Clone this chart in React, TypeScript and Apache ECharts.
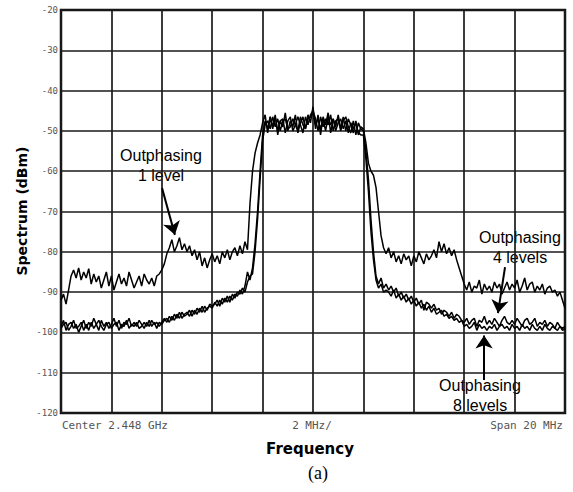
import React, { useEffect, useRef } from "react";
import * as echarts from "echarts";

// Spectrum analyser sweep: Center 2.448 GHz, Span 20 MHz, 0.1 MHz per sample (201 samples)
const spanStartMHz = -10;
const stepMHz = 0.1;

const yTicks = [-120, -110, -100, -90, -80, -70, -60, -50, -40, -30, -20];

// Outphasing, 1 level (dBm)
const level1 = [
  -92.0, -90.5, -93.0, -89.5, -86.0, -84.5, -86.5, -84.0, -87.0, -85.0,
  -86.5, -84.2, -88.0, -85.5, -87.5, -86.0, -89.0, -87.0, -85.0, -88.5,
  -86.0, -89.5, -87.5, -85.5, -88.0, -86.5, -88.5, -85.0, -87.0, -89.0,
  -87.5, -86.0, -88.5, -85.5, -87.0, -88.0, -86.5, -88.5, -86.0, -85.5,
  -84.5, -83.0, -80.5, -79.0, -77.0, -80.0, -78.5, -76.5, -79.5, -78.0,
  -80.0, -78.5, -81.0, -79.5, -82.0, -80.0, -83.5, -81.5, -84.0, -82.0,
  -80.5, -82.5, -81.0, -83.0, -80.0, -81.5, -79.5, -82.0, -80.0, -79.0,
  -81.0, -78.5, -80.5, -77.5, -79.5, -68.0, -60.0, -55.5, -53.0, -51.0,
  -48.0, -46.0, -50.5, -46.5, -49.5, -46.0, -51.0, -47.5, -49.0, -45.5,
  -50.0, -47.5, -49.0, -46.0, -50.5, -48.0, -46.5, -49.5, -46.0, -48.0,
  -44.0, -49.5, -46.0, -51.0, -46.5, -48.5, -45.5, -50.5, -47.0, -49.0,
  -46.0, -49.5, -46.5, -50.0, -47.0, -48.5, -50.5, -47.5, -51.0, -49.0,
  -49.5, -53.0, -58.0, -60.0, -61.0, -64.0, -70.0, -76.0, -79.0, -80.5,
  -79.0, -81.5, -80.0, -82.5, -81.0, -83.0, -80.5, -82.0, -81.0, -83.5,
  -81.0, -82.5, -80.0, -81.5, -83.0, -80.5, -82.0, -81.0, -79.5, -81.5,
  -77.5, -80.0, -78.0, -80.5, -79.0, -81.0, -79.5, -82.0, -84.0, -86.0,
  -88.0, -89.5, -87.5, -90.0, -88.5, -89.0, -87.0, -90.5, -88.0, -89.5,
  -88.5, -90.0, -87.5, -89.0, -88.0, -90.5, -89.0, -87.5, -89.5, -88.0,
  -89.0, -87.0, -90.0, -88.5, -86.5, -89.5, -88.0, -87.5, -90.0, -88.5,
  -89.5, -88.0, -90.5, -89.0, -88.5, -90.0, -89.5, -91.0, -90.0, -92.0,
  -94.0,
];

// Outphasing, 4 levels (dBm)
const level4 = [
  -98.5, -97.0, -99.5, -98.0, -97.5, -99.0, -98.0, -100.0, -98.5, -97.0,
  -99.0, -97.5, -98.5, -96.5, -98.0, -99.5, -97.0, -98.5, -97.5, -99.0,
  -98.0, -96.5, -98.5, -97.0, -99.0, -97.5, -98.0, -96.5, -98.5, -97.5,
  -98.5, -97.0, -98.0, -99.0, -97.5, -98.5, -97.0, -98.0, -97.5, -98.5,
  -97.5, -96.5, -97.5, -96.0, -97.0, -95.5, -96.5, -95.0, -96.5, -95.5,
  -95.0, -96.0, -94.5, -95.5, -94.0, -95.0, -93.5, -95.0, -94.0, -93.5,
  -94.0, -92.5, -93.5, -92.0, -93.0, -91.5, -92.5, -91.0, -92.0, -90.5,
  -91.0, -89.5, -90.5, -88.5, -85.0, -87.0, -84.0, -78.0, -70.0, -60.0,
  -51.0, -47.5, -49.5, -46.5, -49.0, -46.5, -50.0, -47.5, -47.0, -50.5,
  -47.5, -46.5, -50.0, -48.5, -46.5, -48.5, -50.5, -46.5, -48.5, -46.0,
  -45.0, -47.0, -50.0, -46.5, -49.0, -47.0, -48.5, -46.0, -50.0, -47.5,
  -47.0, -50.0, -47.5, -46.5, -49.0, -50.5, -47.5, -51.0, -48.0, -49.5,
  -50.0, -55.0, -62.0, -72.0, -80.0, -86.0, -88.0, -86.5, -89.0, -88.0,
  -89.5, -88.5, -90.0, -89.0, -91.0, -90.0, -91.5, -90.5, -92.0, -91.0,
  -92.5, -91.5, -93.0, -92.0, -94.5, -92.5, -93.0, -94.0, -93.0, -94.5,
  -94.0, -95.5, -94.5, -95.0, -96.0, -95.0, -96.5, -95.5, -96.0, -97.0,
  -97.5, -96.5, -98.0, -97.0, -96.5, -98.5, -97.0, -97.5, -96.0, -98.0,
  -97.0, -98.0, -96.5, -97.5, -98.5, -97.0, -96.0, -97.5, -98.0, -97.0,
  -98.0, -96.5, -97.5, -98.5, -97.0, -96.5, -98.0, -97.5, -96.5, -98.5,
  -97.5, -98.0, -97.0, -98.5, -97.5, -98.0, -99.0, -97.5, -98.5, -99.0,
  -98.5,
];

// Outphasing, 8 levels (dBm)
const level8 = [
  -99.0, -98.0, -97.5, -99.5, -98.5, -97.0, -99.0, -98.5, -97.5, -99.5,
  -98.0, -99.5, -97.5, -99.0, -98.0, -97.0, -98.5, -99.5, -98.0, -97.5,
  -99.0, -98.0, -97.5, -99.5, -98.0, -98.5, -97.0, -99.0, -98.0, -98.5,
  -97.5, -99.0, -98.5, -97.5, -98.5, -97.0, -98.5, -97.5, -99.0, -97.5,
  -98.0, -97.0, -96.5, -97.5, -96.0, -97.0, -95.5, -96.5, -95.0, -96.0,
  -95.5, -94.5, -96.0, -94.5, -95.5, -94.0, -95.0, -93.5, -94.5, -93.0,
  -93.5, -93.0, -92.0, -93.5, -91.5, -92.5, -91.0, -92.5, -90.5, -91.5,
  -90.0, -90.5, -89.0, -90.0, -87.5, -86.0, -85.5, -80.0, -72.0, -62.0,
  -52.5, -48.5, -47.5, -49.5, -46.5, -49.0, -47.0, -50.0, -47.5, -47.0,
  -49.5, -49.0, -47.0, -48.5, -50.0, -46.5, -48.5, -49.5, -47.0, -46.5,
  -45.5, -48.5, -47.0, -49.5, -47.0, -50.0, -46.5, -48.5, -47.0, -50.0,
  -48.0, -47.0, -49.5, -47.5, -50.5, -48.0, -49.5, -48.0, -50.5, -51.0,
  -51.0, -57.0, -65.0, -75.0, -82.0, -87.0, -89.0, -88.0, -90.0, -89.5,
  -90.0, -91.0, -89.5, -91.5, -90.5, -92.0, -91.0, -92.5, -91.5, -93.0,
  -92.0, -93.5, -92.5, -94.0, -93.0, -94.5, -93.5, -95.0, -94.0, -95.5,
  -95.0, -94.5, -96.0, -95.5, -96.5, -96.0, -97.0, -96.5, -97.5, -97.0,
  -98.5, -98.0, -99.0, -98.5, -97.5, -99.5, -98.0, -99.0, -98.5, -99.5,
  -98.5, -99.0, -98.0, -99.5, -98.5, -98.0, -99.0, -98.5, -99.5, -98.0,
  -99.0, -98.5, -99.5, -98.0, -99.0, -98.5, -99.5, -98.0, -99.0, -99.5,
  -98.5, -99.5, -98.0, -99.0, -99.5, -98.5, -99.0, -99.5, -98.5, -99.5,
  -99.0,
];

// Annotation arrows, [from, to] in (MHz, dBm)
const arrow1 = [[-5.99, -64.2], [-5.48, -75.8]];
const arrow4 = [[7.62, -83.8], [7.34, -95.2]];
const arrow8 = [[6.79, -111.8], [6.79, -100.8]];

const toPairs = (vals: number[]) =>
  vals.map((v, i) => [Math.round((spanStartMHz + i * stepMHz) * 10) / 10, v]);

const arrowItem = (a: number[][]) => [
  { coord: a[0], symbol: "none" },
  { coord: a[1], symbol: "arrow" },
];

const traceStyle = { color: "#000", width: 1.5 };
const monoGray = {
  fontFamily: "DejaVu Sans Mono",
  fill: "#555",
};
const noteFont = {
  fontFamily: "Liberation Sans, Arial",
  fontSize: 16,
  fill: "#000",
  textAlign: "center",
  lineHeight: 20,
};

export default function App() {
  const ref = useRef<HTMLDivElement>(null);

  useEffect(() => {
    document.body.style.margin = "0";
    if (!ref.current) return;
    const chart = echarts.init(ref.current, null, { renderer: "svg" });

    chart.setOption({
      animation: false,
      backgroundColor: "#fff",
      grid: {
        left: 61,
        right: 8,
        top: 10,
        bottom: 79,
        show: true,
        borderColor: "#111",
        borderWidth: 2.5,
      },
      xAxis: {
        type: "value",
        min: -10,
        max: 10,
        interval: 2,
        axisLine: { show: false },
        axisTick: { show: false },
        axisLabel: { show: false },
        splitLine: { show: true, lineStyle: { color: "#1a1a1a", width: 1.7 } },
      },
      yAxis: {
        type: "value",
        min: yTicks[0],
        max: yTicks[yTicks.length - 1],
        interval: 10,
        axisLine: { show: false },
        axisTick: { show: false },
        axisLabel: {
          margin: 3,
          color: "#555",
          fontFamily: "DejaVu Sans Mono",
          fontSize: 9,
          formatter: (v: number) => String(v),
        },
        splitLine: { show: true, lineStyle: { color: "#1a1a1a", width: 1.7 } },
      },
      series: [
        {
          name: "Outphasing 1 level",
          type: "line",
          data: toPairs(level1),
          symbol: "none",
          lineStyle: traceStyle,
          markLine: {
            silent: true,
            symbolSize: 13,
            lineStyle: { color: "#000", width: 2, type: "solid" },
            label: { show: false },
            data: [arrowItem(arrow1), arrowItem(arrow4), arrowItem(arrow8)],
          },
        },
        {
          name: "Outphasing 4 levels",
          type: "line",
          data: toPairs(level4),
          symbol: "none",
          lineStyle: traceStyle,
        },
        {
          name: "Outphasing 8 levels",
          type: "line",
          data: toPairs(level8),
          symbol: "none",
          lineStyle: traceStyle,
        },
      ],
      graphic: [
        {
          type: "text",
          rotation: Math.PI / 2,
          x: 22,
          y: 211,
          style: {
            text: "Spectrum (dBm)",
            fontFamily: "DejaVu Sans",
            fontWeight: "bold",
            fontSize: 14,
            fill: "#000",
            textAlign: "center",
            textVerticalAlign: "middle",
          },
        },
        {
          type: "text",
          x: 62,
          y: 425,
          style: { ...monoGray, text: "Center 2.448 GHz", fontSize: 11, textVerticalAlign: "middle" },
        },
        {
          type: "text",
          x: 312,
          y: 425,
          style: { ...monoGray, text: "2 MHz/", fontSize: 11, textAlign: "center", textVerticalAlign: "middle" },
        },
        {
          type: "text",
          x: 563,
          y: 425,
          style: { ...monoGray, text: "Span 20 MHz", fontSize: 11, textAlign: "right", textVerticalAlign: "middle" },
        },
        {
          type: "text",
          x: 310,
          y: 449,
          style: {
            text: "Frequency",
            fontFamily: "DejaVu Sans",
            fontWeight: "bold",
            fontSize: 15,
            fill: "#000",
            textAlign: "center",
            textVerticalAlign: "middle",
          },
        },
        {
          type: "text",
          x: 318,
          y: 473,
          style: {
            text: "(a)",
            fontFamily: "Liberation Serif",
            fontSize: 18,
            fill: "#000",
            textAlign: "center",
            textVerticalAlign: "middle",
          },
        },
        { type: "text", x: 161, y: 145, style: { ...noteFont, text: "Outphasing\n1 level" } },
        { type: "text", x: 520, y: 227, style: { ...noteFont, text: "Outphasing\n4 levels" } },
        { type: "text", x: 480, y: 375, style: { ...noteFont, text: "Outphasing\n8 levels" } },
      ],
    });

    return () => chart.dispose();
  }, []);

  return <div ref={ref} style={{ width: 573, height: 492 }} />;
}
